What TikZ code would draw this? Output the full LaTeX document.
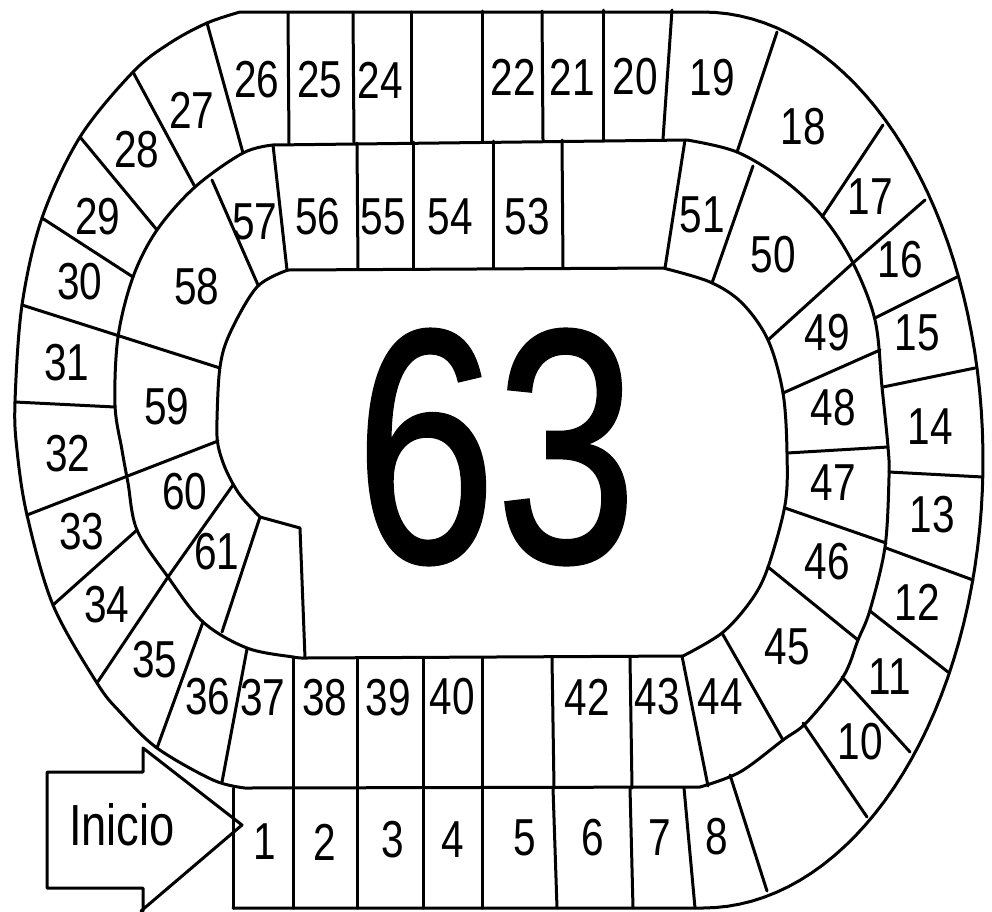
\documentclass[tikz,border=0pt]{standalone}
\usepackage{fontspec}
\usepackage{graphicx}
\setmainfont{Liberation Sans}
\newfontfamily\bigfont{Liberation Sans}[FakeBold=1.0]
\newcommand{\sqlab}[1]{\scalebox{0.78}[1]{\fontsize{52}{52}\selectfont #1}}
\begin{document}
\begin{tikzpicture}[x=1pt,y=-1pt,
  board/.style={line width=3pt,line join=round,line cap=round},
  lab/.style={inner sep=0pt,anchor=center}]
\useasboundingbox (0,0) rectangle (992,911);
\fill[white] (0,0) rectangle (992,911);
% spiral track boundary
\draw[board] (233,908) -- (703,908)
  -- plot[domain=90:-90,samples=72] ({703+280*cos(\x)},{460+448*sin(\x)})
  -- (240,12)
  -- plot[smooth,tension=0.55] coordinates {(240,12) (207,23) (170,43) (133,72) (80,137) (42,218) (22,305) (15,402) (17,450) (27,515) (53,605) (97,683) (120,712) (157,748) (213,780) (245,788)}
  -- (700,787)
  -- plot[smooth,tension=0.55] coordinates {(700,787) (740,772) (783,740) (807,722) (843,677) (858,640) (870,610) (885,547) (889,477) (888,447) (882,387) (875,320) (853,263) (823,217) (785,181) (737,152) (687,140)}
  -- (273,145)
  -- plot[smooth,tension=0.55] coordinates {(273,145) (243,153) (195,187) (157,230) (133,277) (118,337) (115,405) (122,450) (128,483) (137,530) (168,577) (203,622) (247,648) (293,657) (305,658)}
  -- (683,656)
  -- plot[smooth,tension=0.55] coordinates {(683,656) (722,633) (750,602) (767,570) (785,505) (787,453) (783,393) (768,340) (742,303) (710,282) (663,268)}
  -- (288,270)
  -- plot[smooth,tension=0.55] coordinates {(288,270) (257,287) (230,333) (220,367) (217,420) (218,445) (226,470) (240,495) (260,517)}
  -- (300,528) -- (305,658);
% outer lane dividers
\draw[board] (233,788) -- (233,908);
\draw[board] (293,788) -- (293,908);
\draw[board] (357,788) -- (357,908);
\draw[board] (423,788) -- (423,908);
\draw[board] (482,788) -- (482,908);
\draw[board] (553,788) -- (557,908);
\draw[board] (630,788) -- (633,908);
\draw[board] (684,788) -- (695,908);
\draw[board] (730,775) -- (767,891);
\draw[board] (803,723) -- (867,817);
\draw[board] (842,677) -- (910,752);
\draw[board] (870,611) -- (948,672);
\draw[board] (886,548) -- (973,580);
\draw[board] (889,472) -- (983,477);
\draw[board] (883,387) -- (975,368);
\draw[board] (875,318) -- (957,277);
\draw[board] (853,263) -- (925,200);
\draw[board] (822,217) -- (883,125);
\draw[board] (737,152) -- (777,32);
\draw[board] (663,139) -- (672,10);
\draw[board] (603,140) -- (603,10);
\draw[board] (543,140) -- (542,11);
\draw[board] (482,141) -- (482,11);
\draw[board] (411,142) -- (411,12);
\draw[board] (354,143) -- (353,12);
\draw[board] (289,144) -- (288,13);
\draw[board] (243,153) -- (207,23);
\draw[board] (195,187) -- (133,72);
\draw[board] (157,230) -- (80,137);
\draw[board] (133,277) -- (42,218);
\draw[board] (22,305) -- (220,368);
\draw[board] (15,402) -- (115,407);
\draw[board] (27,515) -- (218,441);
\draw[board] (53,605) -- (137,530);
\draw[board] (97,683) -- (168,577) -- (233,485);
\draw[board] (157,748) -- (203,622);
\draw[board] (222,782) -- (247,649);
% inner lane dividers
\draw[board] (293,657) -- (293,788);
\draw[board] (357,658) -- (357,788);
\draw[board] (423,658) -- (423,788);
\draw[board] (482,658) -- (482,788);
\draw[board] (552,658) -- (554,788);
\draw[board] (630,658) -- (632,788);
\draw[board] (682,656) -- (708,786);
\draw[board] (722,633) -- (783,740);
\draw[board] (768,567) -- (858,640);
\draw[board] (785,508) -- (886,543);
\draw[board] (787,453) -- (888,447);
\draw[board] (783,393) -- (880,350);
\draw[board] (768,340) -- (853,263);
\draw[board] (712,283) -- (753,166);
\draw[board] (665,268) -- (685,140);
\draw[board] (563,268) -- (562,140);
\draw[board] (493,268) -- (493,141);
\draw[board] (413,269) -- (413,142);
\draw[board] (358,269) -- (357,143);
\draw[board] (287,270) -- (273,145);
\draw[board] (258,285) -- (212,180);
\draw[board] (222,632) -- (260,517);
% start arrow
\draw[board] (143,911) -- (143,888) -- (47,888) -- (47,772) -- (143,772) -- (143,748) -- (242,825) -- (141,911);
\node[lab] (inicio) at (122,825) {\scalebox{0.78}[1]{\fontsize{58}{58}\selectfont Inicio}};
% square numbers
\node[lab] (s1) at (265,842) {\sqlab{1}};
\node[lab] (s2) at (325,842) {\sqlab{2}};
\node[lab] (s3) at (393,840) {\sqlab{3}};
\node[lab] (s4) at (453,840) {\sqlab{4}};
\node[lab] (s5) at (525,838) {\sqlab{5}};
\node[lab] (s6) at (593,838) {\sqlab{6}};
\node[lab] (s7) at (660,838) {\sqlab{7}};
\node[lab] (s8) at (717,837) {\sqlab{8}};
\node[lab] (s10) at (860,742) {\sqlab{10}};
\node[lab] (s11) at (890,677) {\sqlab{11}};
\node[lab] (s12) at (917,602) {\sqlab{12}};
\node[lab] (s13) at (932,515) {\sqlab{13}};
\node[lab] (s14) at (930,427) {\sqlab{14}};
\node[lab] (s15) at (917,333) {\sqlab{15}};
\node[lab] (s16) at (900,260) {\sqlab{16}};
\node[lab] (s17) at (870,197) {\sqlab{17}};
\node[lab] (s18) at (803,127) {\sqlab{18}};
\node[lab] (s19) at (712,78) {\sqlab{19}};
\node[lab] (s20) at (635,77) {\sqlab{20}};
\node[lab] (s21) at (572,77) {\sqlab{21}};
\node[lab] (s22) at (513,77) {\sqlab{22}};
\node[lab] (s24) at (380,80) {\sqlab{24}};
\node[lab] (s25) at (320,80) {\sqlab{25}};
\node[lab] (s26) at (257,80) {\sqlab{26}};
\node[lab] (s27) at (192,110) {\sqlab{27}};
\node[lab] (s28) at (137,150) {\sqlab{28}};
\node[lab] (s29) at (98,217) {\sqlab{29}};
\node[lab] (s30) at (80,282) {\sqlab{30}};
\node[lab] (s31) at (67,363) {\sqlab{31}};
\node[lab] (s32) at (68,454) {\sqlab{32}};
\node[lab] (s33) at (82,532) {\sqlab{33}};
\node[lab] (s34) at (107,605) {\sqlab{34}};
\node[lab] (s35) at (155,660) {\sqlab{35}};
\node[lab] (s36) at (208,697) {\sqlab{36}};
\node[lab] (s37) at (263,698) {\sqlab{37}};
\node[lab] (s38) at (325,698) {\sqlab{38}};
\node[lab] (s39) at (388,698) {\sqlab{39}};
\node[lab] (s40) at (452,697) {\sqlab{40}};
\node[lab] (s42) at (587,697) {\sqlab{42}};
\node[lab] (s43) at (657,697) {\sqlab{43}};
\node[lab] (s44) at (720,697) {\sqlab{44}};
\node[lab] (s45) at (787,647) {\sqlab{45}};
\node[lab] (s46) at (827,562) {\sqlab{46}};
\node[lab] (s47) at (833,483) {\sqlab{47}};
\node[lab] (s48) at (833,408) {\sqlab{48}};
\node[lab] (s49) at (827,333) {\sqlab{49}};
\node[lab] (s50) at (773,255) {\sqlab{50}};
\node[lab] (s51) at (702,215) {\sqlab{51}};
\node[lab] (s53) at (527,217) {\sqlab{53}};
\node[lab] (s54) at (450,217) {\sqlab{54}};
\node[lab] (s55) at (383,217) {\sqlab{55}};
\node[lab] (s56) at (318,217) {\sqlab{56}};
\node[lab] (s57) at (255,222) {\sqlab{57}};
\node[lab] (s58) at (197,287) {\sqlab{58}};
\node[lab] (s59) at (167,407) {\sqlab{59}};
\node[lab] (s60) at (185,492) {\sqlab{60}};
\node[lab] (s61) at (217,552) {\sqlab{61}};
\node[lab] (s63) at (496,447) {\scalebox{0.76}[1]{\bigfont\fontsize{333}{333}\selectfont 63}};
\end{tikzpicture}
\end{document}
